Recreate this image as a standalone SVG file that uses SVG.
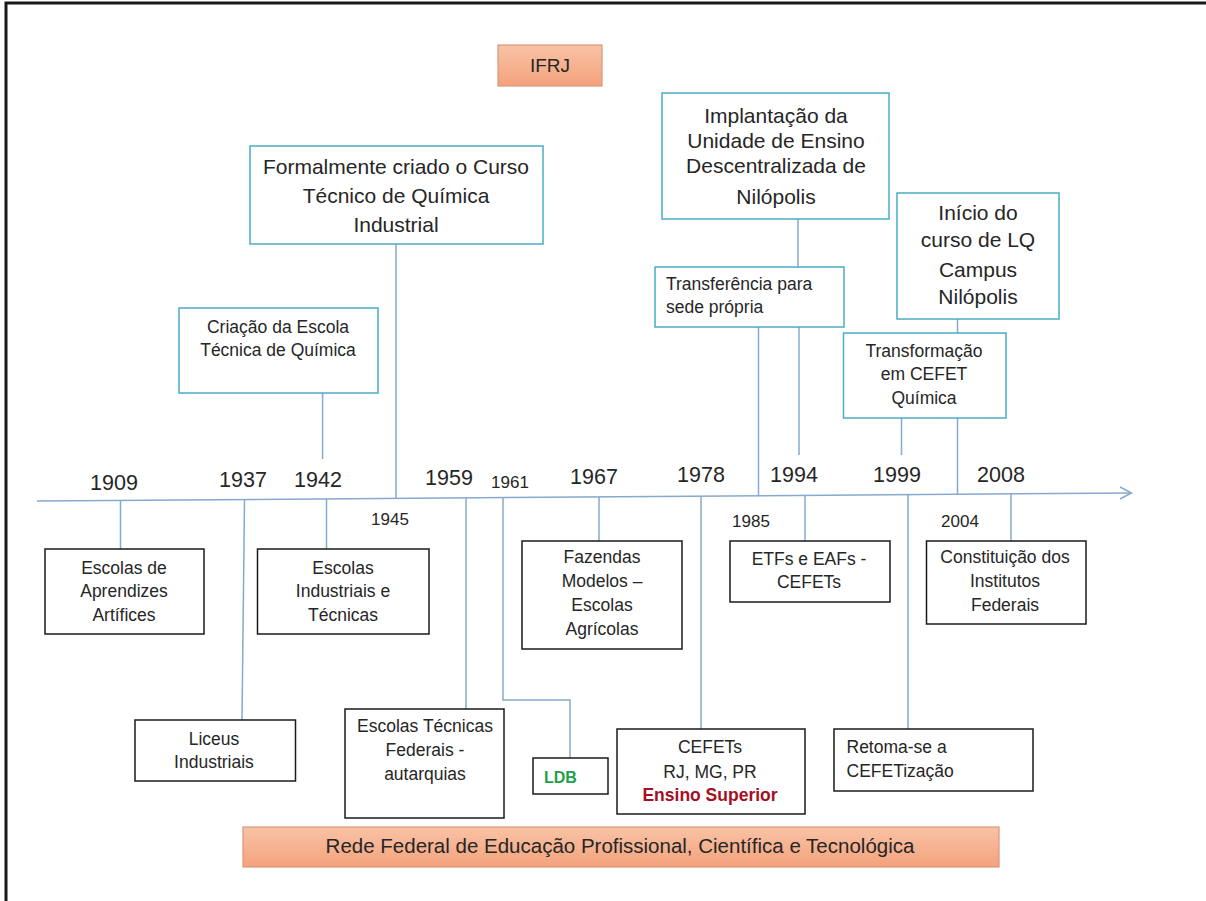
<svg xmlns="http://www.w3.org/2000/svg" width="1206" height="901" viewBox="0 0 1206 901">
<defs>
<linearGradient id="og" x1="0" y1="0" x2="0" y2="1">
<stop offset="0" stop-color="#F9C3A6"/>
<stop offset="1" stop-color="#F3A27C"/>
</linearGradient>
<style>
text{font-family:"Liberation Sans",Arial,sans-serif;fill:#262626}
.t{fill:#fff;stroke:#4BACC6;stroke-width:1.5}
.b{fill:#fff;stroke:#1a1a1a;stroke-width:1.5}
.o{fill:url(#og);stroke:#D9977A;stroke-width:1.2}
.c{fill:none;stroke:#86A9CF;stroke-width:1.5}
.big{font-size:21px;text-anchor:middle}
.sm{font-size:17.5px;text-anchor:middle}
.yr{font-size:21.5px;text-anchor:middle}
.ys{font-size:17px;text-anchor:middle}
.l{text-anchor:start}
</style>
</defs>
<rect x="0" y="0" width="1206" height="901" fill="#fff"/>
<rect x="6" y="3" width="1215" height="915" fill="none" stroke="#1a1a1a" stroke-width="3"/>

<g id="connectors">
<path class="c" d="M37 501 L1131 493"/>
<path class="c" d="M1120 487 L1131.5 493 L1120 499"/>
<path class="c" d="M396 244 V498.3"/>
<path class="c" d="M322.6 393 V459"/>
<path class="c" d="M798 219 V267 M799 327 V455"/>
<path class="c" d="M758.5 327 V495.7"/>
<path class="c" d="M957.5 319 V333 M957.5 418 V494.3"/>
<path class="c" d="M901.5 418 V455"/>
<path class="c" d="M120.5 500.4 V549"/>
<path class="c" d="M244.5 499.5 L242 720"/>
<path class="c" d="M326.5 498.9 V549"/>
<path class="c" d="M466 497.9 V709"/>
<path class="c" d="M503 497.6 V700 H570 V758"/>
<path class="c" d="M599 496.9 V541"/>
<path class="c" d="M701 496.1 V729"/>
<path class="c" d="M805 495.4 V541"/>
<path class="c" d="M908 494.6 V729"/>
<path class="c" d="M1011 493.9 V541"/>
</g>

<g id="years">
<text class="yr" x="114" y="490">1909</text>
<text class="yr" x="243" y="487">1937</text>
<text class="yr" x="318" y="487">1942</text>
<text class="ys" x="390" y="525">1945</text>
<text class="yr" x="449" y="485">1959</text>
<text class="ys" x="510" y="488">1961</text>
<text class="yr" x="594" y="484">1967</text>
<text class="yr" x="701" y="482">1978</text>
<text class="ys" x="751" y="527">1985</text>
<text class="yr" x="794" y="482">1994</text>
<text class="yr" x="897" y="482">1999</text>
<text class="ys" x="960" y="527">2004</text>
<text class="yr" x="1001" y="482">2008</text>
</g>

<g id="ifrj">
<rect class="o" x="498" y="45" width="104" height="41"/>
<text x="550" y="72" style="font-size:19px;text-anchor:middle">IFRJ</text>
</g>

<g id="formalmente">
<rect class="t" x="250" y="146" width="293" height="98"/>
<text class="big" x="396" y="174">Formalmente criado o Curso</text>
<text class="big" x="396" y="203">Técnico de Química</text>
<text class="big" x="396" y="232">Industrial</text>
</g>

<g id="criacao">
<rect class="t" x="179" y="308" width="199" height="85"/>
<text class="sm" x="278" y="333">Criação da Escola</text>
<text class="sm" x="278" y="356">Técnica de Química</text>
</g>

<g id="implantacao">
<rect class="t" x="662" y="93" width="227" height="126"/>
<text class="big" x="776" y="123">Implantação da</text>
<text class="big" x="776" y="148">Unidade de Ensino</text>
<text class="big" x="776" y="173">Descentralizada de</text>
<text class="big" x="776" y="204">Nilópolis</text>
</g>

<g id="inicio">
<rect class="t" x="897" y="193" width="162" height="126"/>
<text class="big" x="978" y="220">Início do</text>
<text class="big" x="978" y="247">curso de LQ</text>
<text class="big" x="978" y="277">Campus</text>
<text class="big" x="978" y="304">Nilópolis</text>
</g>

<g id="transferencia">
<rect class="t" x="655" y="267" width="189" height="60"/>
<text class="sm l" x="666" y="290">Transferência para</text>
<text class="sm l" x="666" y="313">sede própria</text>
</g>

<g id="transformacao">
<rect class="t" x="843.5" y="333" width="162.5" height="85"/>
<text class="sm" x="924" y="357">Transformação</text>
<text class="sm" x="924" y="380">em CEFET</text>
<text class="sm" x="924" y="404">Química</text>
</g>

<g id="aprendizes">
<rect class="b" x="45" y="549" width="159" height="85"/>
<text class="sm" x="124" y="574">Escolas de</text>
<text class="sm" x="124" y="597">Aprendizes</text>
<text class="sm" x="124" y="621">Artífices</text>
</g>

<g id="liceus">
<rect class="b" x="135" y="720" width="160.5" height="61"/>
<text class="sm" x="214" y="745">Liceus</text>
<text class="sm" x="214" y="768">Industriais</text>
</g>

<g id="industriais">
<rect class="b" x="257.5" y="549" width="171.5" height="85"/>
<text class="sm" x="343" y="574">Escolas</text>
<text class="sm" x="343" y="597">Industriais e</text>
<text class="sm" x="343" y="621">Técnicas</text>
</g>

<g id="etf">
<rect class="b" x="345" y="709" width="159" height="109"/>
<text class="sm" x="425" y="732">Escolas Técnicas</text>
<text class="sm" x="425" y="756">Federais -</text>
<text class="sm" x="425" y="780">autarquias</text>
</g>

<g id="ldb">
<rect class="b" x="533" y="758" width="75" height="36"/>
<text class="l" x="544" y="783" style="font-size:16px;font-weight:bold;fill:#1FA04B">LDB</text>
</g>

<g id="fazendas">
<rect class="b" x="522" y="541" width="160" height="108"/>
<text class="sm" x="602" y="563">Fazendas</text>
<text class="sm" x="602" y="587">Modelos –</text>
<text class="sm" x="602" y="611">Escolas</text>
<text class="sm" x="602" y="635">Agrícolas</text>
</g>

<g id="cefets">
<rect class="b" x="617" y="729" width="188" height="85"/>
<text class="sm" x="710" y="753">CEFETs</text>
<text class="sm" x="710" y="778">RJ, MG, PR</text>
<text class="sm" x="710" y="801" style="font-weight:bold;fill:#A50F24">Ensino Superior</text>
</g>

<g id="etfs-eafs">
<rect class="b" x="730" y="541" width="160" height="61"/>
<text class="sm" x="809" y="565">ETFs e EAFs -</text>
<text class="sm" x="809" y="588">CEFETs</text>
</g>

<g id="retoma">
<rect class="b" x="834" y="729" width="199" height="62"/>
<text class="sm l" x="846.5" y="753">Retoma-se a</text>
<text class="sm l" x="846.5" y="777">CEFETização</text>
</g>

<g id="institutos">
<rect class="b" x="926.5" y="541" width="159.5" height="83"/>
<text class="sm" x="1005" y="563">Constituição dos</text>
<text class="sm" x="1005" y="587">Institutos</text>
<text class="sm" x="1005" y="611">Federais</text>
</g>

<g id="rede">
<rect class="o" x="243" y="827" width="756" height="40"/>
<text x="620" y="853" style="font-size:20.5px;text-anchor:middle">Rede Federal de Educação Profissional, Científica e Tecnológica</text>
</g>
</svg>
